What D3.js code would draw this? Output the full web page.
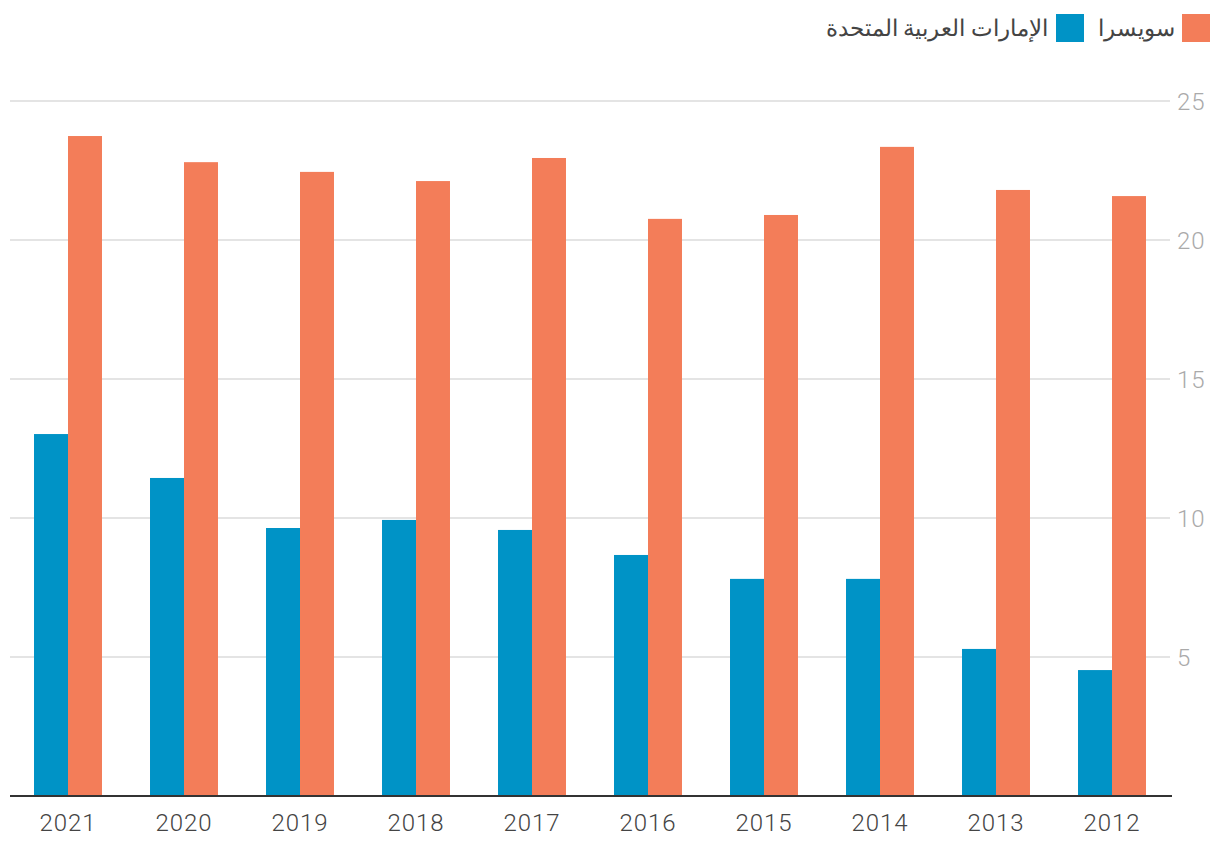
<!DOCTYPE html>
<html><head><meta charset="utf-8">
<script src="https://cdn.jsdelivr.net/npm/d3@7"></script>
<style>body{margin:0;background:#fff;}svg{display:block;font-family:Roboto,"DejaVu Sans",sans-serif;font-weight:300;}</style>
</head><body>
<svg id="c" width="1220" height="854"></svg>
<script>
const years = ["2021","2020","2019","2018","2017","2016","2015","2014","2013","2012"];
const uae = [13.02,11.44,9.64,9.93,9.57,8.67,7.81,7.81,5.29,4.53];
const swiss = [23.74,22.8,22.45,22.12,22.95,20.76,20.9,23.35,21.8,21.58];
const yTicks = [5,10,15,20,25];
const seriesNames = ["الإمارات العربية المتحدة","سويسرا"];
const colors = ["#0093c6","#f37d59"];

const svg = d3.select("#c");
const x = d3.scaleBand().domain(years).range([10,1170]).paddingInner(0.414).paddingOuter(0.207);
const y = d3.scaleLinear().domain([0,25]).range([796,101]);

svg.append("g").selectAll("line").data(yTicks).join("line")
  .attr("x1",10).attr("x2",1170).attr("y1",d=>y(d)).attr("y2",d=>y(d))
  .attr("stroke","#e4e4e4").attr("stroke-width",2);
svg.append("g").selectAll("text").data(yTicks).join("text")
  .attr("x",1177).attr("y",d=>y(d)).attr("dy","0.36em")
  .attr("fill","#aaaaaa").attr("font-size",24).attr("letter-spacing","1px").text(d=>d);

const series = [uae, swiss];
series.forEach((vals,si)=>{
  svg.append("g").selectAll("rect").data(years).join("rect")
    .attr("x",d=>x(d)+si*x.bandwidth()/2)
    .attr("width",x.bandwidth()/2)
    .attr("y",(d,i)=>y(vals[i]))
    .attr("height",(d,i)=>y(0)-y(vals[i]))
    .attr("fill",colors[si]);
});

svg.append("line").attr("x1",10).attr("x2",1172).attr("y1",796).attr("y2",796)
  .attr("stroke","#333").attr("stroke-width",2);

const xa = svg.append("g").attr("transform","translate(0,796)")
  .call(d3.axisBottom(x).tickSize(0).tickPadding(18));
xa.select(".domain").remove();
xa.selectAll("text").attr("font-size",24).attr("fill","#444").attr("letter-spacing","1px")
  .attr("font-family","Roboto,'DejaVu Sans',sans-serif").attr("font-weight",300);

const lg = svg.append("g");
lg.append("rect").attr("x",1182).attr("y",14).attr("width",28).attr("height",28).attr("fill",colors[1]);
lg.append("text").attr("x",1175).attr("y",28).attr("dy","0.36em").attr("text-anchor","end")
  .attr("font-size",23).attr("fill","#444").text(seriesNames[1]);
lg.append("rect").attr("x",1056).attr("y",14).attr("width",28).attr("height",28).attr("fill",colors[0]);
lg.append("text").attr("x",1048).attr("y",28).attr("dy","0.36em").attr("text-anchor","end")
  .attr("font-size",23).attr("fill","#444").text(seriesNames[0]);
</script>
</body></html>
